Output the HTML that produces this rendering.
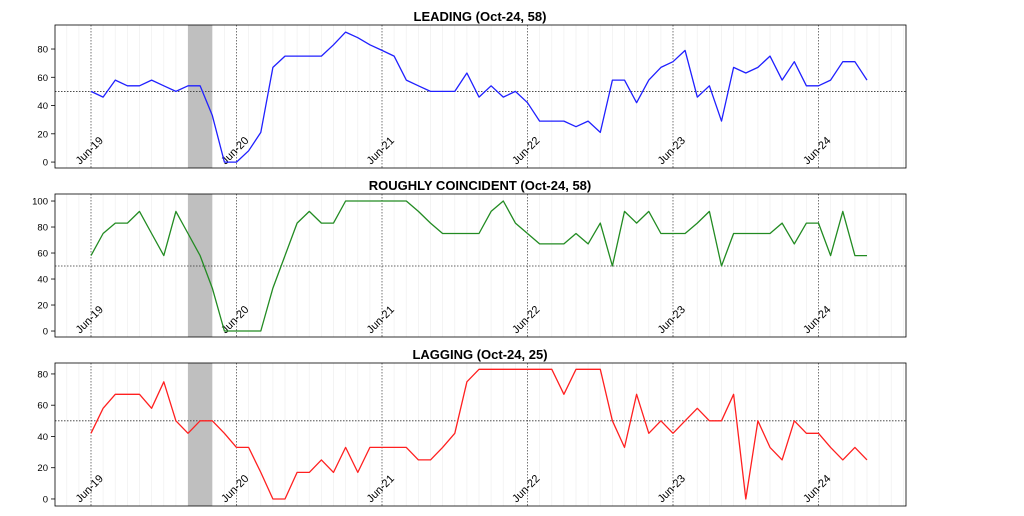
<!DOCTYPE html>
<html><head><meta charset="utf-8"><style>
html,body{margin:0;padding:0;background:#fff;}
svg{display:block;font-family:"Liberation Sans","DejaVu Sans",sans-serif;}
</style></head><body>
<svg id="chart" width="1024" height="516" viewBox="0 0 1024 516" xmlns="http://www.w3.org/2000/svg"></svg>
<script>
const months = 65; // Jun-19 .. Oct-24
const yearLabels = ["Jun-19","Jun-20","Jun-21","Jun-22","Jun-23","Jun-24"];
const leading = [50,46,58,54,54,58,54,50,54,54,33,0,0,8,21,67,75,75,75,75,83,92,88,83,79,75,58,54,50,50,50,63,46,54,46,50,42,29,29,29,25,29,21,58,58,42,58,67,71,79,46,54,29,67,63,67,75,58,71,54,54,58,71,71,58];
const coincident = [58,75,83,83,92,75,58,92,75,58,33,0,0,0,0,33,58,83,92,83,83,100,100,100,100,100,100,92,83,75,75,75,75,92,100,83,75,67,67,67,75,67,83,50,92,83,92,75,75,75,83,92,50,75,75,75,75,83,67,83,83,58,92,58,58];
const lagging = [42,58,67,67,67,58,75,50,42,50,50,42,33,33,17,0,0,17,17,25,17,33,17,33,33,33,33,25,25,33,42,75,83,83,83,83,83,83,83,67,83,83,83,50,33,67,42,50,42,50,58,50,50,67,0,50,33,25,50,42,42,33,25,33,25];
const recession = [8,10];
const panels = [
 {name:"leading",title:"LEADING (Oct-24, 58)",data:leading,color:"#2020ff",top:25,bot:168,ymin:-4.2,ymax:97,ticks:[0,20,40,60,80]},
 {name:"coincident",title:"ROUGHLY COINCIDENT (Oct-24, 58)",data:coincident,color:"#228B22",top:194,bot:337,ymin:-4.6,ymax:105.4,ticks:[0,20,40,60,80,100]},
 {name:"lagging",title:"LAGGING (Oct-24, 25)",data:lagging,color:"#ff2020",top:363,bot:506,ymin:-4.5,ymax:87,ticks:[0,20,40,60,80]}
];
const svg=document.getElementById('chart');
const NS="http://www.w3.org/2000/svg";
const L=55,R=906,x0=91,dx=12.125;
function X(i){return x0+i*dx;}
function mk(tag,attrs,parent){const e=document.createElementNS(NS,tag);for(const k in attrs)e.setAttribute(k,attrs[k]);parent.appendChild(e);return e;}
panels.forEach(p=>{
  const Y=v=>p.bot-(v-p.ymin)/(p.ymax-p.ymin)*(p.bot-p.top);
  const g=mk('g',{},svg);
  
  
  const t=mk('text',{x:480,y:p.top-4,'text-anchor':'middle','font-size':13,'font-weight':'bold'},g);
  t.textContent=p.title;
  
  
  for(let i=-3;i<months+3;i++){const x=X(i);if(x<=L||x>=R)continue;
    const major=((i%12)+12)%12===0;
    const ln=mk('line',{x1:x,x2:x,y1:p.top,y2:p.bot,stroke:major?'#555':'#f0f0f0','stroke-width':0.8,'stroke-dasharray':major?'1.5,1.5':''},g);
    
    
  }
  const sh=mk('rect',{x:X(recession[0]),y:p.top,width:X(recession[1])-X(recession[0]),height:p.bot-p.top,fill:'#bfbfbf'},g);
  
  
  const h=mk('line',{x1:L,x2:R,y1:Y(50),y2:Y(50),stroke:'#333','stroke-width':0.8,'stroke-dasharray':'1.5,1.5'},g);
  
  
  p.ticks.forEach(v=>{
    const tk=mk('line',{x1:L-4,x2:L,y1:Y(v),y2:Y(v),stroke:'#000','stroke-width':0.8},g);
    
    
    const tl=mk('text',{x:L-7,y:Y(v)+3.5,'text-anchor':'end','font-size':9.5},g);
    tl.textContent=v;
    
    
  });
  yearLabels.forEach((lab,k)=>{
    const x=X(k*12)-11, y=p.bot-3;
    const tl=mk('text',{x:x,y:y,'text-anchor':'start','font-size':11,transform:`rotate(-45 ${x} ${y})`},g);
    tl.textContent=lab;
    
    
  });
  const pts=p.data.map((v,i)=>X(i).toFixed(1)+','+Y(v).toFixed(1)).join(' ');
  const pl=mk('polyline',{points:pts,fill:'none',stroke:p.color,'stroke-width':1.3,'stroke-linejoin':'round'},g);
  
  
  const fr=mk('rect',{x:L,y:p.top,width:R-L,height:p.bot-p.top,fill:'none',stroke:'#000','stroke-width':0.8},g);
  
  
});
</script>
</body></html>
